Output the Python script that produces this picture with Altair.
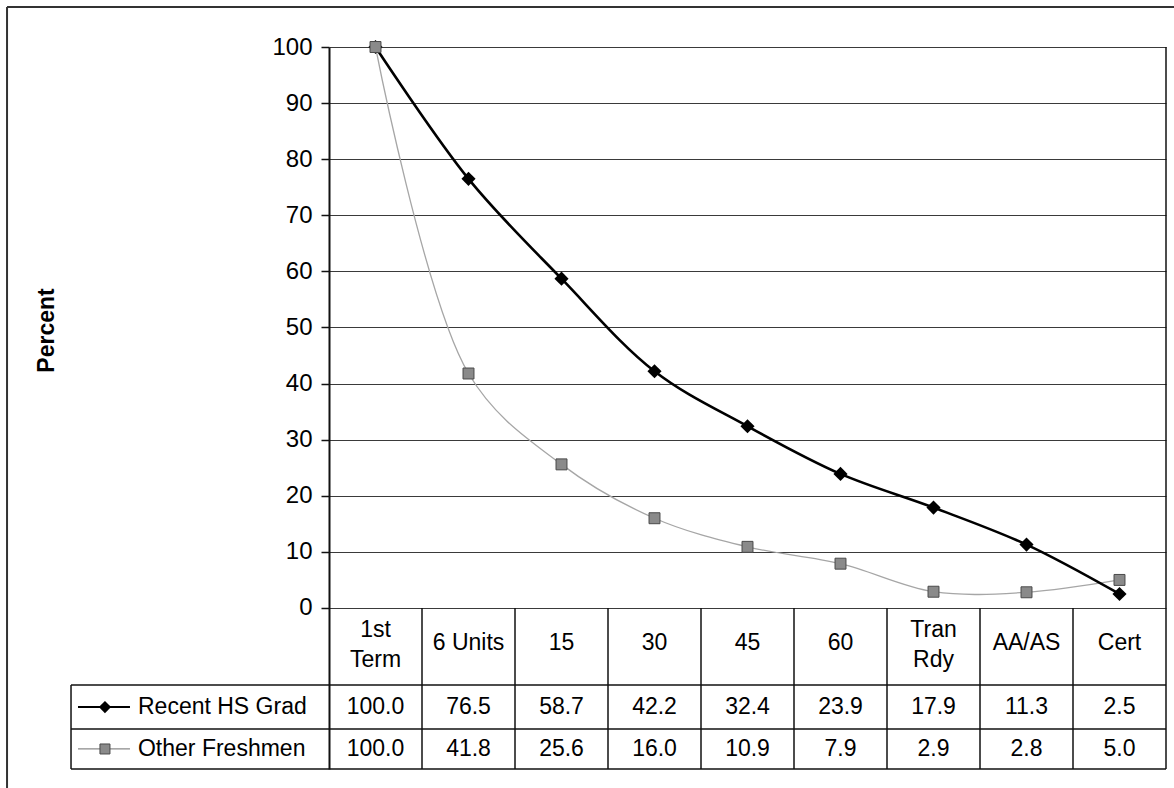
import altair as alt
import pandas as pd

# ---- chart values -------------------------------------------------------
categories = ["1st Term", "6 Units", "15", "30", "45", "60", "Tran Rdy", "AA/AS", "Cert"]
header_labels = ["1st\nTerm", "6 Units", "15", "30", "45", "60", "Tran\nRdy", "AA/AS", "Cert"]
series_names = ["Recent HS Grad", "Other Freshmen"]
recent_hs_grad = [100.0, 76.5, 58.7, 42.2, 32.4, 23.9, 17.9, 11.3, 2.5]
other_freshmen = [100.0, 41.8, 25.6, 16.0, 10.9, 7.9, 2.9, 2.8, 5.0]
y_ticks = list(range(0, 101, 10))

# ---- layout (data-table rows live below zero on the same y scale) ------
N = len(categories)
Y_MIN = -28.7               # bottom edge of the data table
ROW_TOP = [-13.73, -21.57]  # top edge of each series row
ROW_MID = [-17.65, -25.13]
HEADER_MID = -6.24          # single-line header labels
HEADER_TWO = -3.92          # first line of two-line header labels
LEG_LEFT = -2.774           # left edge of the legend column
LEG_LINE = (-2.699, -2.14)
LEG_MARK = -2.409
LEG_TEXT = -2.054
FRAME_X, FRAME_TOP, FRAME_BOTTOM, FRAME_RIGHT = -3.462, 107.13, -32.09, 9.086

FONT = "Liberation Sans"
FS = 23
X_SCALE = alt.Scale(domain=[0, N], nice=False, zero=False)
Y_SCALE = alt.Scale(domain=[Y_MIN, 100], nice=False, zero=False)
Y_AXIS = alt.Axis(
    values=y_ticks, title="Percent", grid=True, gridColor="#3a3a3a",
    gridWidth=1.2, gridOpacity=1, domain=True, domainColor="#111",
    domainWidth=2, ticks=True, tickSize=8, tickColor="#111", tickWidth=1.5,
    labelFont=FONT, labelFontSize=24, labelColor="#000", labelPadding=9,
    titleFont=FONT, titleFontSize=23, titleFontWeight="bold", titleColor="#000",
    titleAngle=-90, titleX=-283, titleY=283, titleAlign="center",
    titleBaseline="middle")


def xq(field):
    return alt.X(f"{field}:Q", scale=X_SCALE, axis=None)


def yq(field):
    return alt.Y(f"{field}:Q", scale=Y_SCALE, axis=Y_AXIS)


pos = [i + 0.5 for i in range(N)]
lines_df = pd.DataFrame({
    "pos": pos * 2,
    "value": recent_hs_grad + other_freshmen,
    "series": [series_names[0]] * N + [series_names[1]] * N,
    "category": categories * 2,
})
hs_df = lines_df[lines_df.series == series_names[0]]
of_df = lines_df[lines_df.series == series_names[1]]

# table grid: vertical column lines (the last one is the plot's right edge)
vlines_df = pd.DataFrame({"x": list(range(1, N + 1)), "y1": [Y_MIN] * N,
                          "y2": [0.0] * (N - 1) + [100.0]})
vlines = alt.Chart(vlines_df).mark_rule(color="#111", strokeWidth=1.5).encode(
    x=xq("x"), y=yq("y1"), y2="y2:Q")

# table grid: horizontal row lines + legend column edge
hlines_df = pd.DataFrame({"y": ROW_TOP + [Y_MIN], "x1": [LEG_LEFT] * 3, "x2": [N] * 3})
hlines = alt.Chart(hlines_df).mark_rule(color="#111", strokeWidth=1.5).encode(
    x=xq("x1"), x2="x2:Q", y=yq("y"))
leg_edge = alt.Chart(pd.DataFrame({"x": [LEG_LEFT], "y1": [ROW_TOP[0]], "y2": [Y_MIN]})).mark_rule(
    color="#111", strokeWidth=1.5).encode(x=xq("x"), y=yq("y1"), y2="y2:Q")

# outer frame (top and left edges)
frame_top = alt.Chart(pd.DataFrame({"x1": [FRAME_X], "x2": [FRAME_RIGHT], "y": [FRAME_TOP]})).mark_rule(
    color="#333", strokeWidth=2).encode(x=xq("x1"), x2="x2:Q", y=yq("y"))
frame_left = alt.Chart(pd.DataFrame({"x": [FRAME_X], "y1": [FRAME_TOP], "y2": [FRAME_BOTTOM]})).mark_rule(
    color="#333", strokeWidth=2).encode(x=xq("x"), y=yq("y1"), y2="y2:Q")

# series lines (smoothed) and markers
hs_line = alt.Chart(hs_df).mark_line(color="#000", strokeWidth=2.6, interpolate="catmull-rom").encode(
    x=xq("pos"), y=yq("value"))
of_line = alt.Chart(of_df).mark_line(color="#a6a6a6", strokeWidth=1.3, interpolate="catmull-rom").encode(
    x=xq("pos"), y=yq("value"))
hs_pts = alt.Chart(hs_df).mark_point(shape="diamond", filled=True, color="#000", size=200, opacity=1).encode(
    x=xq("pos"), y=yq("value"))
of_pts = alt.Chart(of_df).mark_point(shape="square", filled=True, fill="#8a8a8a", stroke="#4a4a4a",
                                     strokeWidth=1, size=120, opacity=1).encode(
    x=xq("pos"), y=yq("value"))

# data table header and values
header_df = pd.DataFrame({
    "x": pos,
    "y": [HEADER_TWO if "\n" in lab else HEADER_MID for lab in header_labels],
    "label": header_labels,
})
header = alt.Chart(header_df).mark_text(font=FONT, fontSize=FS, color="#000", lineBreak="\n",
                                        lineHeight=30, baseline="middle", align="center").encode(
    x=xq("x"), y=yq("y"), text="label:N")

cells_df = pd.DataFrame({
    "x": pos * 2,
    "y": [ROW_MID[0]] * N + [ROW_MID[1]] * N,
    "value": recent_hs_grad + other_freshmen,
})
cells = alt.Chart(cells_df).mark_text(font=FONT, fontSize=FS, color="#000", baseline="middle",
                                      align="center").encode(
    x=xq("x"), y=yq("y"), text=alt.Text("value:Q", format=".1f"))

# legend keys inside the data table
leg_df = pd.DataFrame({"series": series_names, "y": ROW_MID,
                       "x1": [LEG_LINE[0]] * 2, "x2": [LEG_LINE[1]] * 2,
                       "xm": [LEG_MARK] * 2, "xt": [LEG_TEXT] * 2})
leg_hs = leg_df[leg_df.series == series_names[0]]
leg_of = leg_df[leg_df.series == series_names[1]]
leg_line_hs = alt.Chart(leg_hs).mark_rule(color="#000", strokeWidth=2.2).encode(
    x=xq("x1"), x2="x2:Q", y=yq("y"))
leg_line_of = alt.Chart(leg_of).mark_rule(color="#8a8a8a", strokeWidth=1.3).encode(
    x=xq("x1"), x2="x2:Q", y=yq("y"))
leg_mark_hs = alt.Chart(leg_hs).mark_point(shape="diamond", filled=True, color="#000", size=150, opacity=1).encode(
    x=xq("xm"), y=yq("y"))
leg_mark_of = alt.Chart(leg_of).mark_point(shape="square", filled=True, fill="#8a8a8a", stroke="#4a4a4a",
                                           strokeWidth=1, size=100, opacity=1).encode(
    x=xq("xm"), y=yq("y"))
leg_text = alt.Chart(leg_df).mark_text(font=FONT, fontSize=FS, color="#000", baseline="middle",
                                       align="left").encode(
    x=xq("xt"), y=yq("y"), text="series:N")

chart = alt.layer(
    frame_top, frame_left, vlines, hlines, leg_edge,
    of_line, hs_line, hs_pts, of_pts,
    header, cells, leg_line_hs, leg_line_of, leg_mark_hs, leg_mark_of, leg_text,
).properties(
    width=837, height=722,
    autosize=alt.AutoSizeParams(type="none"),
    padding={"left": 329, "top": 47, "right": 8, "bottom": 19},
    background="#ffffff",
).configure_view(stroke=None)

chart.save("out.html", embed_options={"renderer": "svg", "actions": False})
